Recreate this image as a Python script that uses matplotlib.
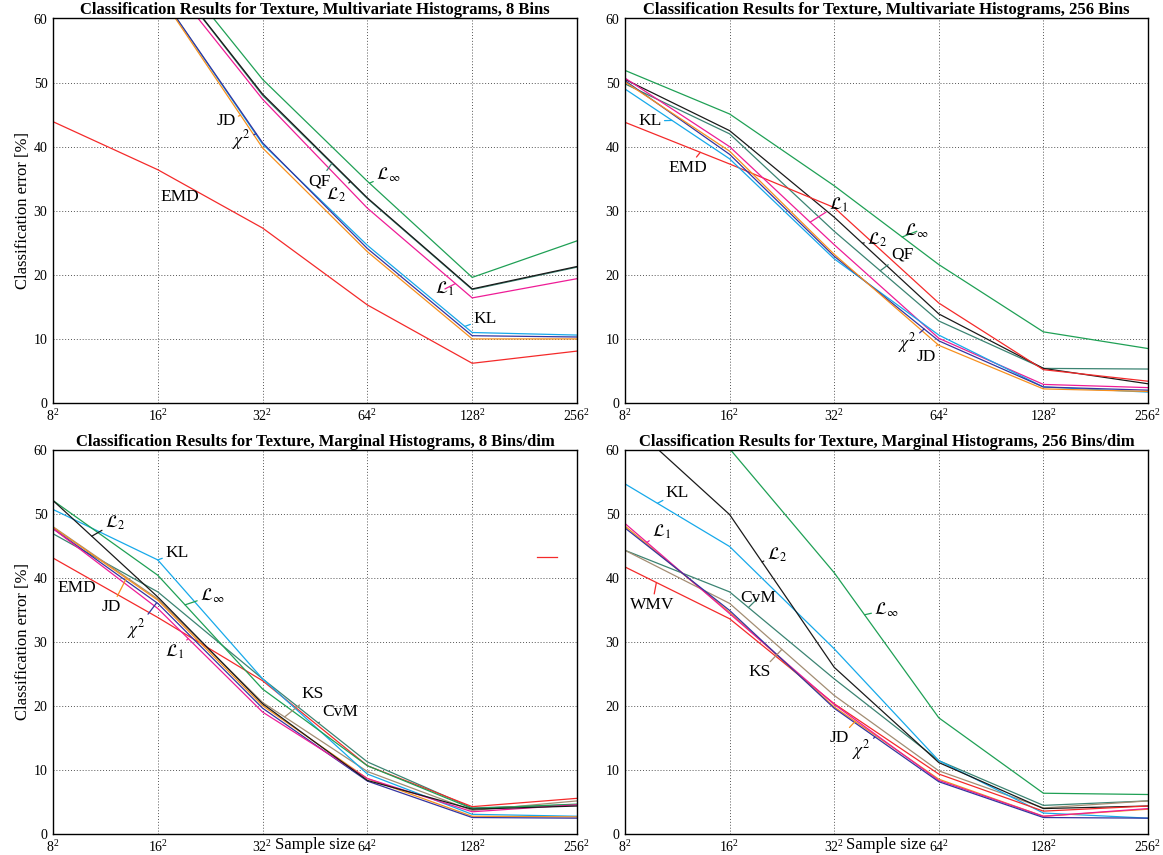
import matplotlib
matplotlib.use("Agg")
import matplotlib.pyplot as plt
from matplotlib.lines import Line2D
import numpy as np

plt.rcParams['font.family'] = ['Liberation Serif', 'DejaVu Serif']
plt.rcParams['mathtext.fontset'] = 'stix'

# ---------------- data ----------------
sizes = ['8', '16', '32', '64', '128', '256']

# Panel 1: Multivariate Histograms, 8 Bins
p1_EMD = [43.9, 36.4, 27.3, 15.3, 6.2, 8.1]
p1_Linf = [92.0, 70.8, 50.5, 34.6, 19.6, 25.3]
p1_QF = [88.0, 69.0, 48.0, 31.9, 17.7, 21.2]
p1_L2 = [88.0, 69.0, 48.2, 32.0, 17.8, 21.3]
p1_L1 = [86.0, 67.9, 47.4, 30.4, 16.4, 19.4]
p1_KL = [82.0, 64.3, 40.4, 24.6, 11.0, 10.6]
p1_chi2 = [82.0, 64.3, 40.6, 24.1, 10.5, 10.3]
p1_JD = [81.5, 64.1, 39.8, 23.6, 10.0, 10.0]

# Panel 2: Multivariate Histograms, 256 Bins
p2_Linf = [51.9, 45.1, 33.9, 21.6, 11.1, 8.5]
p2_L2 = [50.5, 42.5, 29.0, 13.9, 5.4, 3.0]
p2_QF = [49.8, 42.0, 26.8, 12.8, 5.4, 5.3]
p2_EMD = [43.8, 37.3, 30.5, 15.6, 5.2, 3.4]
p2_L1 = [50.7, 40.0, 24.7, 10.1, 2.9, 2.4]
p2_KL = [49.0, 38.1, 22.5, 10.6, 2.5, 1.7]
p2_chi2 = [50.3, 38.8, 22.9, 9.7, 2.5, 2.0]
p2_JD = [50.1, 39.3, 23.2, 9.0, 2.2, 1.8]

# Panel 3: Marginal Histograms, 8 Bins/dim
p3_L2 = [52.1, 37.0, 20.3, 8.3, 3.8, 4.3]
p3_Linf = [52.1, 40.4, 22.6, 10.6, 3.9, 4.6]
p3_KL = [50.7, 42.8, 24.2, 9.3, 3.0, 2.7]
p3_CvM = [46.9, 37.8, 24.2, 11.2, 4.0, 4.5]
p3_KS = [48.0, 36.7, 20.5, 9.7, 3.6, 5.1]
p3_EMD = [43.1, 33.8, 23.9, 10.6, 4.2, 5.5]
p3_JD = [47.9, 36.5, 20.0, 8.6, 2.7, 2.6]
p3_chi2 = [47.7, 36.0, 19.6, 8.2, 2.5, 2.4]
p3_L1 = [47.7, 35.2, 19.0, 8.6, 3.4, 4.5]

# Panel 4: Marginal Histograms, 256 Bins/dim
p4_Linf = [78.0, 60.2, 40.8, 18.1, 6.3, 6.1]
p4_L2 = [64.8, 49.9, 26.0, 11.1, 3.9, 4.3]
p4_KL = [54.7, 44.9, 28.9, 11.4, 3.2, 2.4]
p4_L1 = [48.5, 34.4, 20.2, 8.3, 2.7, 3.9]
p4_chi2 = [47.8, 34.9, 19.6, 8.1, 2.5, 2.4]
p4_JD = [48.1, 34.6, 19.8, 8.5, 2.7, 3.8]
p4_CvM = [44.3, 37.8, 24.2, 11.4, 4.4, 5.1]
p4_KS = [44.3, 36.0, 21.6, 9.8, 4.0, 5.1]
p4_WMV = [41.7, 33.6, 20.3, 9.3, 3.5, 4.3]

titles = [
    'Classification Results for Texture, Multivariate Histograms, 8 Bins',
    'Classification Results for Texture, Multivariate Histograms, 256 Bins',
    'Classification Results for Texture, Marginal Histograms, 8 Bins/dim',
    'Classification Results for Texture, Marginal Histograms, 256 Bins/dim',
]

# ---------------- styles ----------------
RED = '#f42a2a'
GREEN = '#1fa055'
BLACK = '#1a1a1a'
TEAL = '#3b8372'
MAGENTA = '#ee1c96'
CYAN = '#17a9ea'
NAVY = '#3535a0'
ORANGE = '#f7901e'
TAN = '#a38d73'

LBL = {
    'Linf': r'$\mathcal{L}_\infty$', 'L1': r'$\mathcal{L}_1$', 'L2': r'$\mathcal{L}_2$',
    'chi2': r'$\chi^2$', 'KL': 'KL', 'JD': 'JD', 'EMD': 'EMD', 'QF': 'QF',
    'CvM': 'CvM', 'KS': 'KS', 'WMV': 'WMV',
}

panels = [
    [(p1_EMD, RED), (p1_Linf, GREEN), (p1_QF, TEAL), (p1_L2, BLACK), (p1_L1, MAGENTA),
     (p1_KL, CYAN), (p1_chi2, NAVY), (p1_JD, ORANGE)],
    [(p2_Linf, GREEN), (p2_QF, TEAL), (p2_L2, BLACK), (p2_EMD, RED), (p2_L1, MAGENTA),
     (p2_KL, CYAN), (p2_chi2, NAVY), (p2_JD, ORANGE)],
    [(p3_CvM, TEAL), (p3_KS, TAN), (p3_EMD, RED), (p3_KL, CYAN), (p3_Linf, GREEN),
     (p3_JD, ORANGE), (p3_chi2, NAVY), (p3_L1, MAGENTA), (p3_L2, BLACK)],
    [(p4_Linf, GREEN), (p4_CvM, TEAL), (p4_KS, TAN), (p4_KL, CYAN), (p4_L2, BLACK),
     (p4_WMV, RED), (p4_JD, ORANGE), (p4_L1, MAGENTA), (p4_chi2, NAVY)],
]

# label layout: (label key, series, colour, text pos (x, y), leader end x on series or None)
annots = [
    [('JD', p1_JD, ORANGE, (1.65, 44.0), 1.79), ('chi2', p1_chi2, NAVY, (1.80, 41.1), 1.94),
     ('EMD', p1_EMD, RED, (1.21, 32.2), None), ('QF', p1_QF, TEAL, (2.54, 34.6), 2.66),
     ('L2', p1_L2, BLACK, (2.70, 32.5), 2.84), ('Linf', p1_Linf, GREEN, (3.20, 35.6), 3.02),
     ('L1', p1_L1, MAGENTA, (3.74, 17.8), 3.84), ('KL', p1_KL, CYAN, (4.12, 13.1), 3.93)],
    [('KL', p2_KL, CYAN, (0.24, 44.0), 0.45), ('EMD', p2_EMD, RED, (0.60, 36.7), 0.72),
     ('L1', p2_L1, MAGENTA, (2.04, 31.0), 1.77), ('L2', p2_L2, BLACK, (2.41, 25.5), 2.27),
     ('QF', p2_QF, TEAL, (2.65, 23.2), 2.44), ('Linf', p2_Linf, GREEN, (2.79, 26.8), 2.65),
     ('chi2', p2_chi2, NAVY, (2.70, 9.3), 2.86), ('JD', p2_JD, ORANGE, (2.88, 7.2), 2.99)],
    [('L2', p3_L2, BLACK, (0.59, 48.6), 0.37), ('KL', p3_KL, CYAN, (1.18, 43.9), 1.00),
     ('Linf', p3_Linf, GREEN, (1.52, 37.2), 1.26), ('EMD', p3_EMD, RED, (0.23, 38.4), None),
     ('JD', p3_JD, ORANGE, (0.56, 35.4), 0.70), ('chi2', p3_chi2, NAVY, (0.80, 32.0), 0.99),
     ('L1', p3_L1, MAGENTA, (1.16, 28.4), 1.29), ('KS', p3_KS, TAN, (2.48, 21.8), 2.21),
     ('CvM', p3_CvM, TEAL, (2.74, 19.0), 2.53)],
    [('KL', p4_KL, CYAN, (0.50, 53.3), 0.31), ('L1', p4_L1, MAGENTA, (0.35, 47.2), 0.21),
     ('WMV', p4_WMV, RED, (0.26, 35.8), 0.30), ('L2', p4_L2, BLACK, (1.45, 43.6), 1.31),
     ('CvM', p4_CvM, TEAL, (1.27, 36.8), 1.18), ('Linf', p4_Linf, GREEN, (2.50, 35.0), 2.29),
     ('KS', p4_KS, TAN, (1.29, 25.2), 1.50), ('JD', p4_JD, ORANGE, (2.05, 14.9), 2.20),
     ('chi2', p4_chi2, NAVY, (2.26, 13.0), 2.39)],
]

fig = plt.figure(figsize=(11.63, 8.55), dpi=100)
W, H = 1163.0, 855.0
boxes = [
    (53, 18.5, 577, 403), (625, 18.5, 1148, 403),
    (53, 450, 577, 833.5), (625, 450, 1148, 833.5),
]

xs = list(range(len(sizes)))
for i, (l, t, r, b) in enumerate(boxes):
    ax = fig.add_axes([l / W, 1 - b / H, (r - l) / W, (b - t) / H])
    for ys, c in panels[i]:
        ax.plot(xs, ys, color=c, lw=0.9, solid_joinstyle='miter')
    ax.set_xlim(0, len(sizes) - 1)
    ax.set_ylim(0, 60)
    ax.set_xticks(xs)
    ax.set_xticklabels([r'$\mathregular{%s^2}$' % s for s in sizes])
    ax.set_yticks(range(0, 61, 10))
    ax.tick_params(labelsize=10, length=0, pad=4)
    ax.grid(True, color='#555555', linestyle=(0, (1, 2)), lw=0.7)
    for sp in ax.spines.values():
        sp.set_linewidth(1.0)
    ax.set_title(titles[i], fontsize=12, fontweight='bold', pad=3)
    if i % 2 == 0:
        ax.set_ylabel('Classification error [%]', fontsize=12, labelpad=2)
    if i >= 2:
        ax.text(0.5, -0.031, 'Sample size', transform=ax.transAxes, ha='center',
                va='center', fontsize=12)
    for key, ser, c, tpos, px in annots[i]:
        if px is None:
            ax.text(tpos[0], tpos[1], LBL[key], ha='center', va='center', fontsize=12.5)
        else:
            py = float(np.interp(px, xs, ser))
            ax.annotate(LBL[key], xy=(px, py), xytext=tpos, ha='center', va='center',
                        fontsize=12.5,
                        arrowprops=dict(arrowstyle='-', color=c, lw=0.9,
                                        shrinkA=0, shrinkB=0))
    if i == 2:
        ax.legend(handles=[Line2D([], [], color=RED, lw=0.9)], labels=[''],
                  frameon=False, loc='center', bbox_to_anchor=(0.956, 0.717),
                  handlelength=1.2, fontsize=12)

fig.savefig('out.png', dpi=100)
